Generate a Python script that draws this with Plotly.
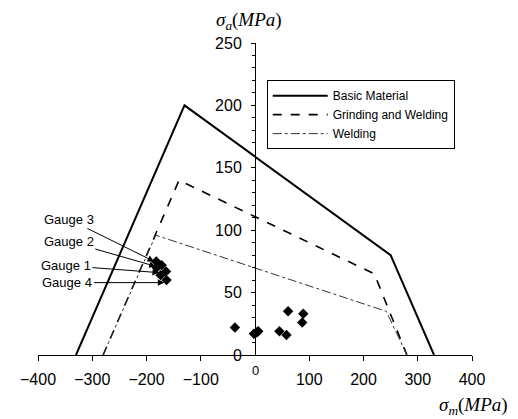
import plotly.graph_objects as go

# Data
basic_x = [-330, -130, 250, 330]
basic_y = [0, 200, 80, 0]
grind_x = [-280, -140, 220, 280]
grind_y = [0, 140, 65, 0]
weld_x = [-280, -183, 242, 280]
weld_y = [0, 96, 35, 0]

gauge_x = [-182, -172, -181, -164, -174, -163]
gauge_y = [75, 72, 70, 67, 64, 60]
pts_x = [-37, -2, 3, 6, 45, 58, 61, 89, 87]
pts_y = [22, 17, 18, 19, 19, 16, 35, 33, 26]

gauge_labels = ["Gauge 3", "Gauge 2", "Gauge 1", "Gauge 4"]
gauge_tip_x = [-186, -183, -177, -167]
gauge_tip_y = [75, 71, 66, 58]
gauge_ax = [-85, -87, -93, -97]
gauge_ay = [-42, -25, -7, 0]

x_ticks = [-400, -300, -200, -100, 100, 200, 300, 400]
y_ticks = [0, 50, 100, 150, 200, 250]

fig = go.Figure()
fig.add_trace(go.Scatter(x=basic_x, y=basic_y, mode="lines", name="Basic Material",
                         line=dict(color="black", width=2)))
fig.add_trace(go.Scatter(x=grind_x, y=grind_y, mode="lines", name="Grinding and Welding",
                         line=dict(color="black", width=1.6, dash="dash")))
fig.add_trace(go.Scatter(x=weld_x, y=weld_y, mode="lines", name="Welding",
                         line=dict(color="#333", width=1, dash="dashdot")))
fig.add_trace(go.Scatter(x=gauge_x + pts_x, y=gauge_y + pts_y, mode="markers", showlegend=False,
                         marker=dict(symbol="diamond", size=8, color="black")))

for lab, tx, ty, ax, ay in zip(gauge_labels, gauge_tip_x, gauge_tip_y, gauge_ax, gauge_ay):
    fig.add_annotation(x=tx, y=ty, xref="x", yref="y", ax=ax, ay=ay, text=lab,
                       showarrow=True, arrowhead=2, arrowsize=1.3, arrowwidth=1,
                       arrowcolor="black", font=dict(size=13, color="black",
                       family="Liberation Sans, Arial"))

fig.add_annotation(x=0, y=0, xref="x", yref="y", yshift=-15, text="0", showarrow=False,
                   font=dict(size=13, color="black", family="Liberation Sans, Arial"))

fig.add_annotation(x=0.486, y=1.072, xref="paper", yref="paper", showarrow=False,
                   xanchor="center", yanchor="middle",
                   text="<i>σ</i><sub><i>a</i></sub>(<i>MPa</i>)",
                   font=dict(size=19, color="black", family="Liberation Serif"))
fig.add_annotation(x=1.088, y=-0.163, xref="paper", yref="paper", showarrow=False,
                   xanchor="right", yanchor="middle",
                   text="<i>σ</i><sub><i>m</i></sub>(<i>MPa</i>)",
                   font=dict(size=19, color="black", family="Liberation Serif"))

fig.update_layout(
    width=510, height=411,
    margin=dict(l=22, r=46, t=35, b=64),
    paper_bgcolor="white", plot_bgcolor="white",
    font=dict(family="Liberation Sans, Arial", color="black"),
    xaxis=dict(range=[-400, 400], tickvals=x_ticks, showgrid=False, zeroline=False,
               showline=True, linecolor="black", linewidth=1, ticks="outside",
               ticklen=5, tickcolor="black", tickfont=dict(size=16),
               ticklabelstandoff=5),
    yaxis=dict(range=[0, 250], tickvals=y_ticks, showgrid=False, zeroline=False,
               anchor="free", position=0.5,
               showline=True, linecolor="black", linewidth=1, ticks="outside",
               ticklen=4, tickcolor="black", tickfont=dict(size=16),
               minor=dict(dtick=10, ticks="outside", ticklen=3, tickcolor="black", showgrid=False),
               ticklabelstandoff=6),
    legend=dict(x=0.527, y=0.881, xanchor="left", yanchor="top",
                bordercolor="black", borderwidth=1, bgcolor="white",
                font=dict(size=12), tracegroupgap=0, itemwidth=55),
)

fig.write_html("out.html")
